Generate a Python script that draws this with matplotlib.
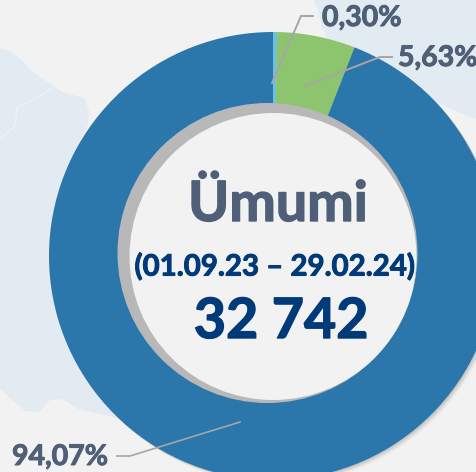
import matplotlib.pyplot as plt
import matplotlib.patheffects as pe
from matplotlib.patches import Circle

shares = [0.30, 5.63, 94.07]
share_labels = ["0,30%", "5,63%", "94,07%"]
slice_colors = ["#6fc0dc", "#8cc56d", "#2b77ab"]
title = "Ümumi"
period = "(01.09.23 – 29.02.24)"
total = "32 742"

W, H = 477, 472
plt.rcParams['font.family'] = ['Lato', 'DejaVu Sans']

def Y(py):
	return H - py

def label(x, py, s, size, color, ha="center", bold=0.7):
	t = ax.text(x, Y(py), s, fontsize=size, fontweight="bold", color=color, ha=ha, va="center", zorder=8)
	t.set_path_effects([pe.withStroke(linewidth=bold, foreground=color)])

fig = plt.figure(figsize=(W / 100, H / 100), dpi=100, facecolor="#f2f2f2")
ax = fig.add_axes([0, 0, 1, 1])

# pale map behind the chart
map_left = [(0, 48), (12, 52), (24, 62), (30, 70), (48, 82), (62, 92), (84, 98), (89, 110), (88, 125), (80, 140),
	(120, 260), (125, 420), (100, 414), (78, 409), (62, 399), (50, 400), (40, 412), (25, 411), (12, 400), (0, 388)]
map_right = [(314, 0), (318, 10), (322, 28), (340, 60), (477, 120), (477, 0)]
ax.fill([p[0] for p in map_left], [Y(p[1]) for p in map_left], color="#e3ebf2", lw=0, zorder=1)
ax.fill([p[0] for p in map_right], [Y(p[1]) for p in map_right], color="#e3ebf2", lw=0, zorder=1)
border = [(53, 88), (36, 98), (17, 108), (15, 126), (0, 139)]
ax.plot([p[0] for p in border], [Y(p[1]) for p in border], color="#edf2f6", lw=1, zorder=1.5)

# soft shadow of the ring, lower right only
cx, cy = 273, Y(256)
for off, alpha in [(4, 0.04), (3, 0.06), (2, 0.08), (1, 0.10)]:
	ax.add_patch(Circle((cx + off, cy - off), 224, color="#404040", alpha=alpha, lw=0, zorder=2))

ax.pie(shares, colors=slice_colors, startangle=90, counterclock=False, center=(cx, cy), radius=224,
	wedgeprops=dict(width=80, linewidth=0, zorder=3), frame=True)

# hole: grey crescent with the light disc over it
ax.add_patch(Circle((267.5, Y(253)), 150, color="#b8b8b8", lw=0, zorder=4))
ax.add_patch(Circle((cx, Y(256.5)), 143.5, color="#f2f2f2", lw=0, zorder=5))

label(278, 205, title, 40, "#4f5f78", bold=1.0)
label(275, 267, period, 21.2, "#003a78")
label(281, 322, total, 40, "#003a78", bold=1.0)

# leader lines
line_color = "#a6a6a6"
ax.plot([272, 301, 313], [Y(83), Y(16), Y(16)], color=line_color, lw=1.4, zorder=7)
ax.plot([305, 380, 392], [Y(86), Y(57), Y(57)], color=line_color, lw=1.4, zorder=7)
ax.plot([117, 130, 240], [Y(456), Y(456), Y(422)], color=line_color, lw=1.2, zorder=7)

label(322, 18, share_labels[0], 20.5, "#4f5f78", ha="left")
label(398, 58, share_labels[1], 20.5, "#4f5f78", ha="left")
label(12, 457, share_labels[2], 20.5, "#4f5f78", ha="left")

ax.set_xlim(0, W)
ax.set_ylim(0, H)
ax.set_aspect("auto")
ax.axis("off")
fig.savefig("out.png", dpi=100, facecolor=fig.get_facecolor())
